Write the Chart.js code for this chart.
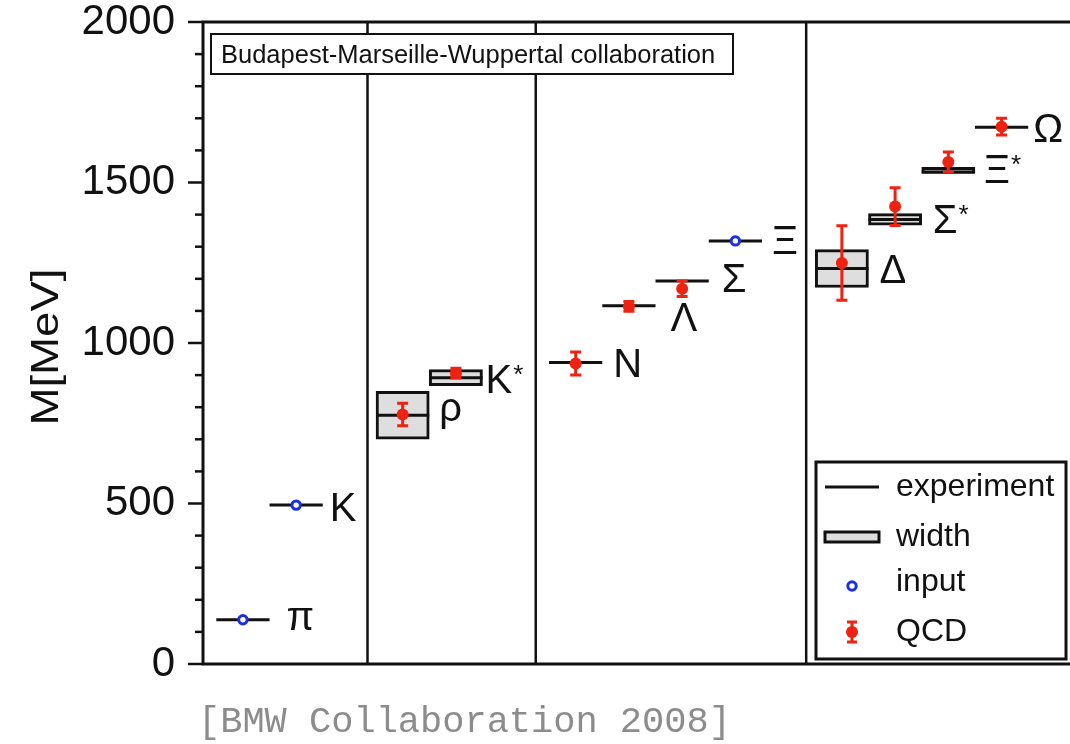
<!DOCTYPE html>
<html>
<head>
<meta charset="utf-8">
<script src="https://cdn.jsdelivr.net/npm/chart.js@4.4.1/dist/chart.umd.min.js"></script>
<style>
    html, body { margin: 0; padding: 0; background: #fff; }
    #wrap { position: relative; width: 1070px; height: 744px; overflow: hidden; }
    #caption {
        position: absolute; left: 198px; top: 702px;
        font: 37px "Liberation Mono", "Courier New", monospace;
        line-height: 40px; color: #8c8c8c; white-space: nowrap;
    }
</style>
</head>
<body>
<div id="wrap">
    <canvas id="spectrum"></canvas>
    <div id="caption">[BMW Collaboration 2008]</div>
</div>
<script>
"use strict";

/*
    Light hadron spectrum (MeV)
*/

const particles  = ["π", "K", "ρ", "K*", "N", "Λ", "Σ", "Ξ", "Δ", "Σ*", "Ξ*", "Ω"];
const x_slot     = [0.75, 1.75, 3.75, 4.75, 7, 8, 9, 10, 12, 13, 14, 15];
const exp_mass   = [138, 495, 775, 892, 939, 1116, 1193, 1318, 1232, 1385, 1533, 1672];
const exp_width  = [0, 0, 149, 50, 0, 0, 0, 0, 118, 36, 9, 0];
const input_mass = [138, 495, null, null, null, null, null, 1318, null, null, null, null];
const qcd_mass   = [null, null, 777, 906, 936, 1114, 1169, null, 1249, 1425, 1564, 1674];
const qcd_err    = [null, null, 35, 15, 36, 15, 24, null, 116, 59, 31, 26];
const group_edges = [3.09, 6.25, 11.33];
const banner_text = "Budapest-Marseille-Wuppertal collaboration";
const y_title = "M[MeV]";

// small per-label text nudges [dx, dy] in px (style only)
const label_nudge = [[7, -4], [-3, 2], [0, -8], [-7, 1], [1, 0], [5, 11],
                     [3, -3], [0, -1], [1, 0], [1, 0], [-1, -3], [-5, 1]];

const INK = "#111";
const RED = "#ee2211";
const BLUE = "#1a30e0";
const BOX_FILL = "#dedede";
const FONT = "'Liberation Sans', Arial, sans-serif";

Chart.defaults.font.family = FONT;

let exp_segments = [];
particles.forEach((p, i) => {
    exp_segments.push({x: x_slot[i] - 0.5, y: exp_mass[i]});
    exp_segments.push({x: x_slot[i] + 0.5, y: exp_mass[i]});
    exp_segments.push({x: x_slot[i] + 0.5, y: null});
});

let width_bars = particles
    .map((p, i) => ({x: x_slot[i], y: [exp_mass[i] - exp_width[i] / 2, exp_mass[i] + exp_width[i] / 2]}))
    .filter((d, i) => exp_width[i] > 0);

let input_points = particles
    .map((p, i) => ({x: x_slot[i], y: input_mass[i]}))
    .filter(d => d.y !== null);

let qcd_points = particles
    .map((p, i) => ({x: x_slot[i], y: qcd_mass[i]}))
    .filter(d => d.y !== null);

function draw_error_bars(chart) {
    const {ctx, scales: {x, y}} = chart;
    ctx.save();
    ctx.strokeStyle = RED;
    ctx.lineWidth = 3;
    particles.forEach((p, i) => {
        if (qcd_mass[i] === null) return;
        const px = x.getPixelForValue(x_slot[i]);
        const lo = y.getPixelForValue(qcd_mass[i] - qcd_err[i]);
        const hi = y.getPixelForValue(qcd_mass[i] + qcd_err[i]);
        ctx.beginPath();
        ctx.moveTo(px, lo); ctx.lineTo(px, hi);
        ctx.moveTo(px - 5.5, lo); ctx.lineTo(px + 5.5, lo);
        ctx.moveTo(px - 5.5, hi); ctx.lineTo(px + 5.5, hi);
        ctx.stroke();
    });
    ctx.restore();
}

function draw_frame(chart) {
    const {ctx, chartArea: ca, scales: {y}} = chart;
    ctx.save();
    ctx.strokeStyle = INK;
    ctx.lineWidth = 3;
    ctx.beginPath();
    ctx.moveTo(chart.width, ca.top); ctx.lineTo(ca.left, ca.top);
    ctx.lineTo(ca.left, ca.bottom); ctx.lineTo(chart.width, ca.bottom);
    ctx.stroke();
    ctx.lineWidth = 2.5;
    y.ticks.forEach(t => {
        const py = y.getPixelForValue(t.value);
        const len = t.value % 500 === 0 ? 15 : 8;
        ctx.beginPath();
        ctx.moveTo(ca.left - len, py); ctx.lineTo(ca.left, py);
        ctx.stroke();
    });
    ctx.restore();
}

function draw_particle_labels(chart) {
    const {ctx, scales: {x, y}} = chart;
    ctx.save();
    ctx.fillStyle = INK;
    ctx.textBaseline = "alphabetic";
    particles.forEach((name, i) => {
        const base = name.replace("*", "");
        const [dx, dy] = label_nudge[i];
        const px = x.getPixelForValue(x_slot[i] + 0.5) + 10 + dx;
        const py = y.getPixelForValue(exp_mass[i]) + 14 + dy;
        ctx.font = "40px " + FONT;
        ctx.fillText(base, px, py);
        if (name.endsWith("*")) {
            const w = ctx.measureText(base).width;
            ctx.font = "26px " + FONT;
            ctx.fillText("*", px + w + 1, py - 10);
        }
    });
    ctx.restore();
}

function draw_banner(chart) {
    const {ctx, chartArea: ca} = chart;
    const left = ca.left + 8, top = ca.top + 12, w = 522, h = 40;
    ctx.save();
    ctx.fillStyle = "#fff";
    ctx.fillRect(left, top, w, h);
    ctx.strokeStyle = INK;
    ctx.lineWidth = 2;
    ctx.strokeRect(left, top, w, h);
    ctx.fillStyle = INK;
    ctx.font = "25.5px " + FONT;
    ctx.textBaseline = "alphabetic";
    ctx.fillText(banner_text, left + 10, top + h / 2 + 9);
    ctx.restore();
}

function draw_legend(chart) {
    const {ctx, chartArea: ca} = chart;
    const w = 250, h = 197;
    const left = chart.width - 4 - w, top = ca.bottom - 5 - h;
    const sx = left + 36, tx = left + 80;
    const rows = [25, 75, 120, 170].map(r => top + r);
    const labels = chart.data.datasets.map(d => d.label);

    ctx.save();
    ctx.fillStyle = "#fff";
    ctx.fillRect(left, top, w, h);
    ctx.strokeStyle = INK;
    ctx.lineWidth = 3;
    ctx.strokeRect(left, top, w, h);

    // experiment
    ctx.beginPath();
    ctx.moveTo(sx - 27, rows[0]); ctx.lineTo(sx + 27, rows[0]);
    ctx.stroke();
    // width
    ctx.fillStyle = BOX_FILL;
    ctx.fillRect(sx - 27, rows[1] - 5, 54, 10);
    ctx.strokeRect(sx - 27, rows[1] - 5, 54, 10);
    // input
    ctx.beginPath();
    ctx.arc(sx, rows[2] + 4, 4.2, 0, 2 * Math.PI);
    ctx.fillStyle = "#fff";
    ctx.fill();
    ctx.strokeStyle = BLUE;
    ctx.lineWidth = 3;
    ctx.stroke();
    // QCD
    ctx.strokeStyle = RED;
    ctx.lineWidth = 3;
    ctx.beginPath();
    ctx.moveTo(sx, rows[3] - 10); ctx.lineTo(sx, rows[3] + 10);
    ctx.moveTo(sx - 5, rows[3] - 10); ctx.lineTo(sx + 5, rows[3] - 10);
    ctx.moveTo(sx - 5, rows[3] + 10); ctx.lineTo(sx + 5, rows[3] + 10);
    ctx.stroke();
    ctx.beginPath();
    ctx.arc(sx, rows[3], 6, 0, 2 * Math.PI);
    ctx.fillStyle = RED;
    ctx.fill();

    ctx.fillStyle = INK;
    ctx.font = "32px " + FONT;
    ctx.textBaseline = "alphabetic";
    ["experiment", "width", "input", "QCD"].forEach((name, k) => {
        const text = labels.find(l => l === name) || name;
        ctx.fillText(text, tx, rows[k] + 9);
    });
    ctx.restore();
}

function draw_y_title(chart) {
    const {ctx, chartArea: ca} = chart;
    ctx.save();
    ctx.translate(58, (ca.top + ca.bottom) / 2 + 4);
    ctx.rotate(-Math.PI / 2);
    ctx.scale(1.2, 1);
    ctx.fillStyle = INK;
    ctx.font = "38px " + FONT;
    ctx.textAlign = "center";
    ctx.textBaseline = "alphabetic";
    ctx.fillText(y_title, 0, 0);
    ctx.restore();
}

const spectrum_plugin = {
    id: "spectrum",
    beforeDatasetsDraw(chart) {
        const {ctx, chartArea: ca, scales: {x}} = chart;
        ctx.save();
        ctx.strokeStyle = INK;
        ctx.lineWidth = 2.5;
        group_edges.forEach(e => {
            const px = x.getPixelForValue(e);
            ctx.beginPath();
            ctx.moveTo(px, ca.top); ctx.lineTo(px, ca.bottom);
            ctx.stroke();
        });
        ctx.restore();
    },
    afterDatasetsDraw(chart) {
        draw_error_bars(chart);
        draw_frame(chart);
        draw_particle_labels(chart);
        draw_banner(chart);
        draw_legend(chart);
        draw_y_title(chart);
    }
};

let ctx = document.getElementById("spectrum").getContext("2d");
window.spectrum_chart = new Chart(ctx, {
    type: "scatter",
    data: {
        datasets: [{
            type: "bar",
            label: "width",
            data: width_bars,
            backgroundColor: BOX_FILL,
            borderColor: INK,
            borderWidth: 3,
            borderSkipped: false,
            barPercentage: 1,
            categoryPercentage: 1,
            minBarLength: 6,
            order: 4
        },
        {
            type: "line",
            label: "experiment",
            data: exp_segments,
            showLine: true,
            spanGaps: false,
            borderColor: INK,
            borderWidth: 3,
            pointRadius: 0,
            fill: false,
            order: 3
        },
        {
            label: "input",
            data: input_points,
            pointStyle: "circle",
            pointRadius: 4.2,
            borderWidth: 3,
            borderColor: BLUE,
            backgroundColor: "#fff",
            order: 2
        },
        {
            label: "QCD",
            data: qcd_points,
            pointStyle: "circle",
            pointRadius: 6,
            borderWidth: 0,
            backgroundColor: RED,
            order: 1
        }]
    },
    options: {
        responsive: true,
        maintainAspectRatio: false,
        animation: false,
        events: [],
        layout: { padding: { left: 0, top: 22, right: 0, bottom: 80 } },
        plugins: {
            legend: { display: false },
            tooltip: { enabled: false }
        },
        scales: {
            x: {
                type: "linear",
                min: 0,
                max: 16.15,
                display: false,
                offset: false,
                ticks: { stepSize: 1, includeBounds: false }
            },
            y: {
                type: "linear",
                min: 0,
                max: 2000,
                afterFit: scale => {
                    scale.width = 203;
                    scale.paddingTop = 0;
                    scale.paddingBottom = 0;
                },
                grid: { display: false, drawTicks: false },
                border: { display: false },
                ticks: {
                    stepSize: 100,
                    autoSkip: false,
                    padding: 28,
                    color: INK,
                    font: { size: 42, lineHeight: 1 },
                    callback: v => (v % 500 === 0 ? v : "")
                }
            }
        }
    },
    plugins: [spectrum_plugin]
});
</script>
</body>
</html>
